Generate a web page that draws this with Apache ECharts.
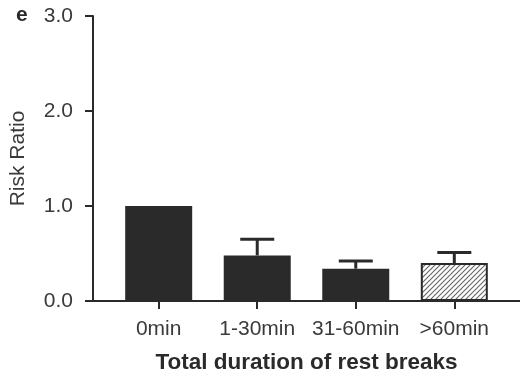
<!DOCTYPE html>
<html>
<head>
<meta charset="utf-8">
<script src="https://cdn.jsdelivr.net/npm/echarts@6/dist/echarts.min.js"></script>
<style>
  html, body { margin: 0; padding: 0; background: #fff; }
  #chart { width: 520px; height: 376px; }
</style>
</head>
<body>
<div id="chart"></div>
<script>
// data
const categories = ['0min', '1-30min', '31-60min', '>60min']
const riskRatio = [1.0, 0.48, 0.34, 0.40]
const upperCI = [1.0, 0.65, 0.42, 0.51]   // reference group has no error bar
const yTicks = [0, 1, 2, 3]

const font = 'Liberation Sans, Arial, sans-serif'
const ink = '#2a2a2a'

// diagonal hatch for the last bar
function hatch() {
  const c = document.createElement('canvas')
  c.width = 5
  c.height = 5
  const g = c.getContext('2d')
  g.fillStyle = '#fff'
  g.fillRect(0, 0, 5, 5)
  g.strokeStyle = '#6a6a6a'
  g.lineWidth = 1.2
  g.beginPath()
  g.moveTo(-1, 6); g.lineTo(6, -1)
  g.moveTo(-1, 1); g.lineTo(1, -1)
  g.moveTo(4, 6); g.lineTo(6, 4)
  g.stroke()
  return c
}

const chart = echarts.init(document.getElementById('chart'))

const barData = riskRatio.map((v, i) => {
  const item = { value: [i, v] }
  if (i === 3) {
    item.itemStyle = {
      color: { image: hatch(), repeat: 'repeat' },
      borderColor: ink,
      borderWidth: 2
    }
  }
  return item
})

chart.setOption({
  animation: false,
  title: {
    text: 'e',
    left: 16,
    top: 5,
    padding: 0,
    textStyle: { fontFamily: font, fontSize: 21, fontWeight: 'bold', color: ink }
  },
  grid: { left: 93, right: 0, top: 16, bottom: 75, outerBoundsMode: 'none' },
  xAxis: {
    type: 'value',
    min: -2 / 3,
    max: 11 / 3,
    splitLine: { show: false },
    axisLine: { show: true, onZero: false, lineStyle: { color: ink, width: 2 } },
    axisTick: { show: true, length: 8, lineStyle: { color: ink, width: 2 }, customValues: [0, 1, 2, 3] },
    axisLabel: {
      customValues: [0, 1, 2, 3],
      formatter: v => categories[Math.round(v)],
      margin: 18,
      fontFamily: font,
      fontSize: 21,
      color: '#3a3a3a'
    },
    name: 'Total duration of rest breaks',
    nameLocation: 'middle',
    nameGap: 50,
    nameTextStyle: { fontFamily: font, fontSize: 22.5, fontWeight: 'bold', color: ink }
  },
  yAxis: {
    type: 'value',
    min: yTicks[0],
    max: yTicks[yTicks.length - 1],
    interval: 1,
    splitLine: { show: false },
    axisLine: { show: true, onZero: false, lineStyle: { color: ink, width: 2 } },
    axisTick: { show: true, length: 8, lineStyle: { color: ink, width: 2 } },
    axisLabel: {
      formatter: v => v.toFixed(1),
      margin: 20,
      fontFamily: font,
      fontSize: 21,
      color: '#3a3a3a'
    },
    name: 'Risk Ratio',
    nameLocation: 'middle',
    nameGap: 64,
    nameTextStyle: { fontFamily: font, fontSize: 21, color: '#3a3a3a' }
  },
  series: [
    {
      type: 'bar',
      barWidth: 67,
      data: barData,
      itemStyle: { color: ink },
      z: 2
    },
    {
      type: 'custom',
      z: 3,
      data: upperCI.map((u, i) => [i, riskRatio[i], u]),
      renderItem(params, api) {
        const x = api.value(0)
        const lo = api.coord([x, api.value(1)])
        const hi = api.coord([x, api.value(2)])
        if (hi[1] >= lo[1]) return { type: 'group', children: [] }
        const half = 17
        const style = { stroke: ink, lineWidth: 3 }
        return {
          type: 'group',
          children: [
            { type: 'line', shape: { x1: hi[0], y1: hi[1], x2: lo[0], y2: lo[1] }, style },
            { type: 'line', shape: { x1: hi[0] - half, y1: hi[1], x2: hi[0] + half, y2: hi[1] }, style }
          ]
        }
      }
    }
  ]
})
</script>
</body>
</html>
